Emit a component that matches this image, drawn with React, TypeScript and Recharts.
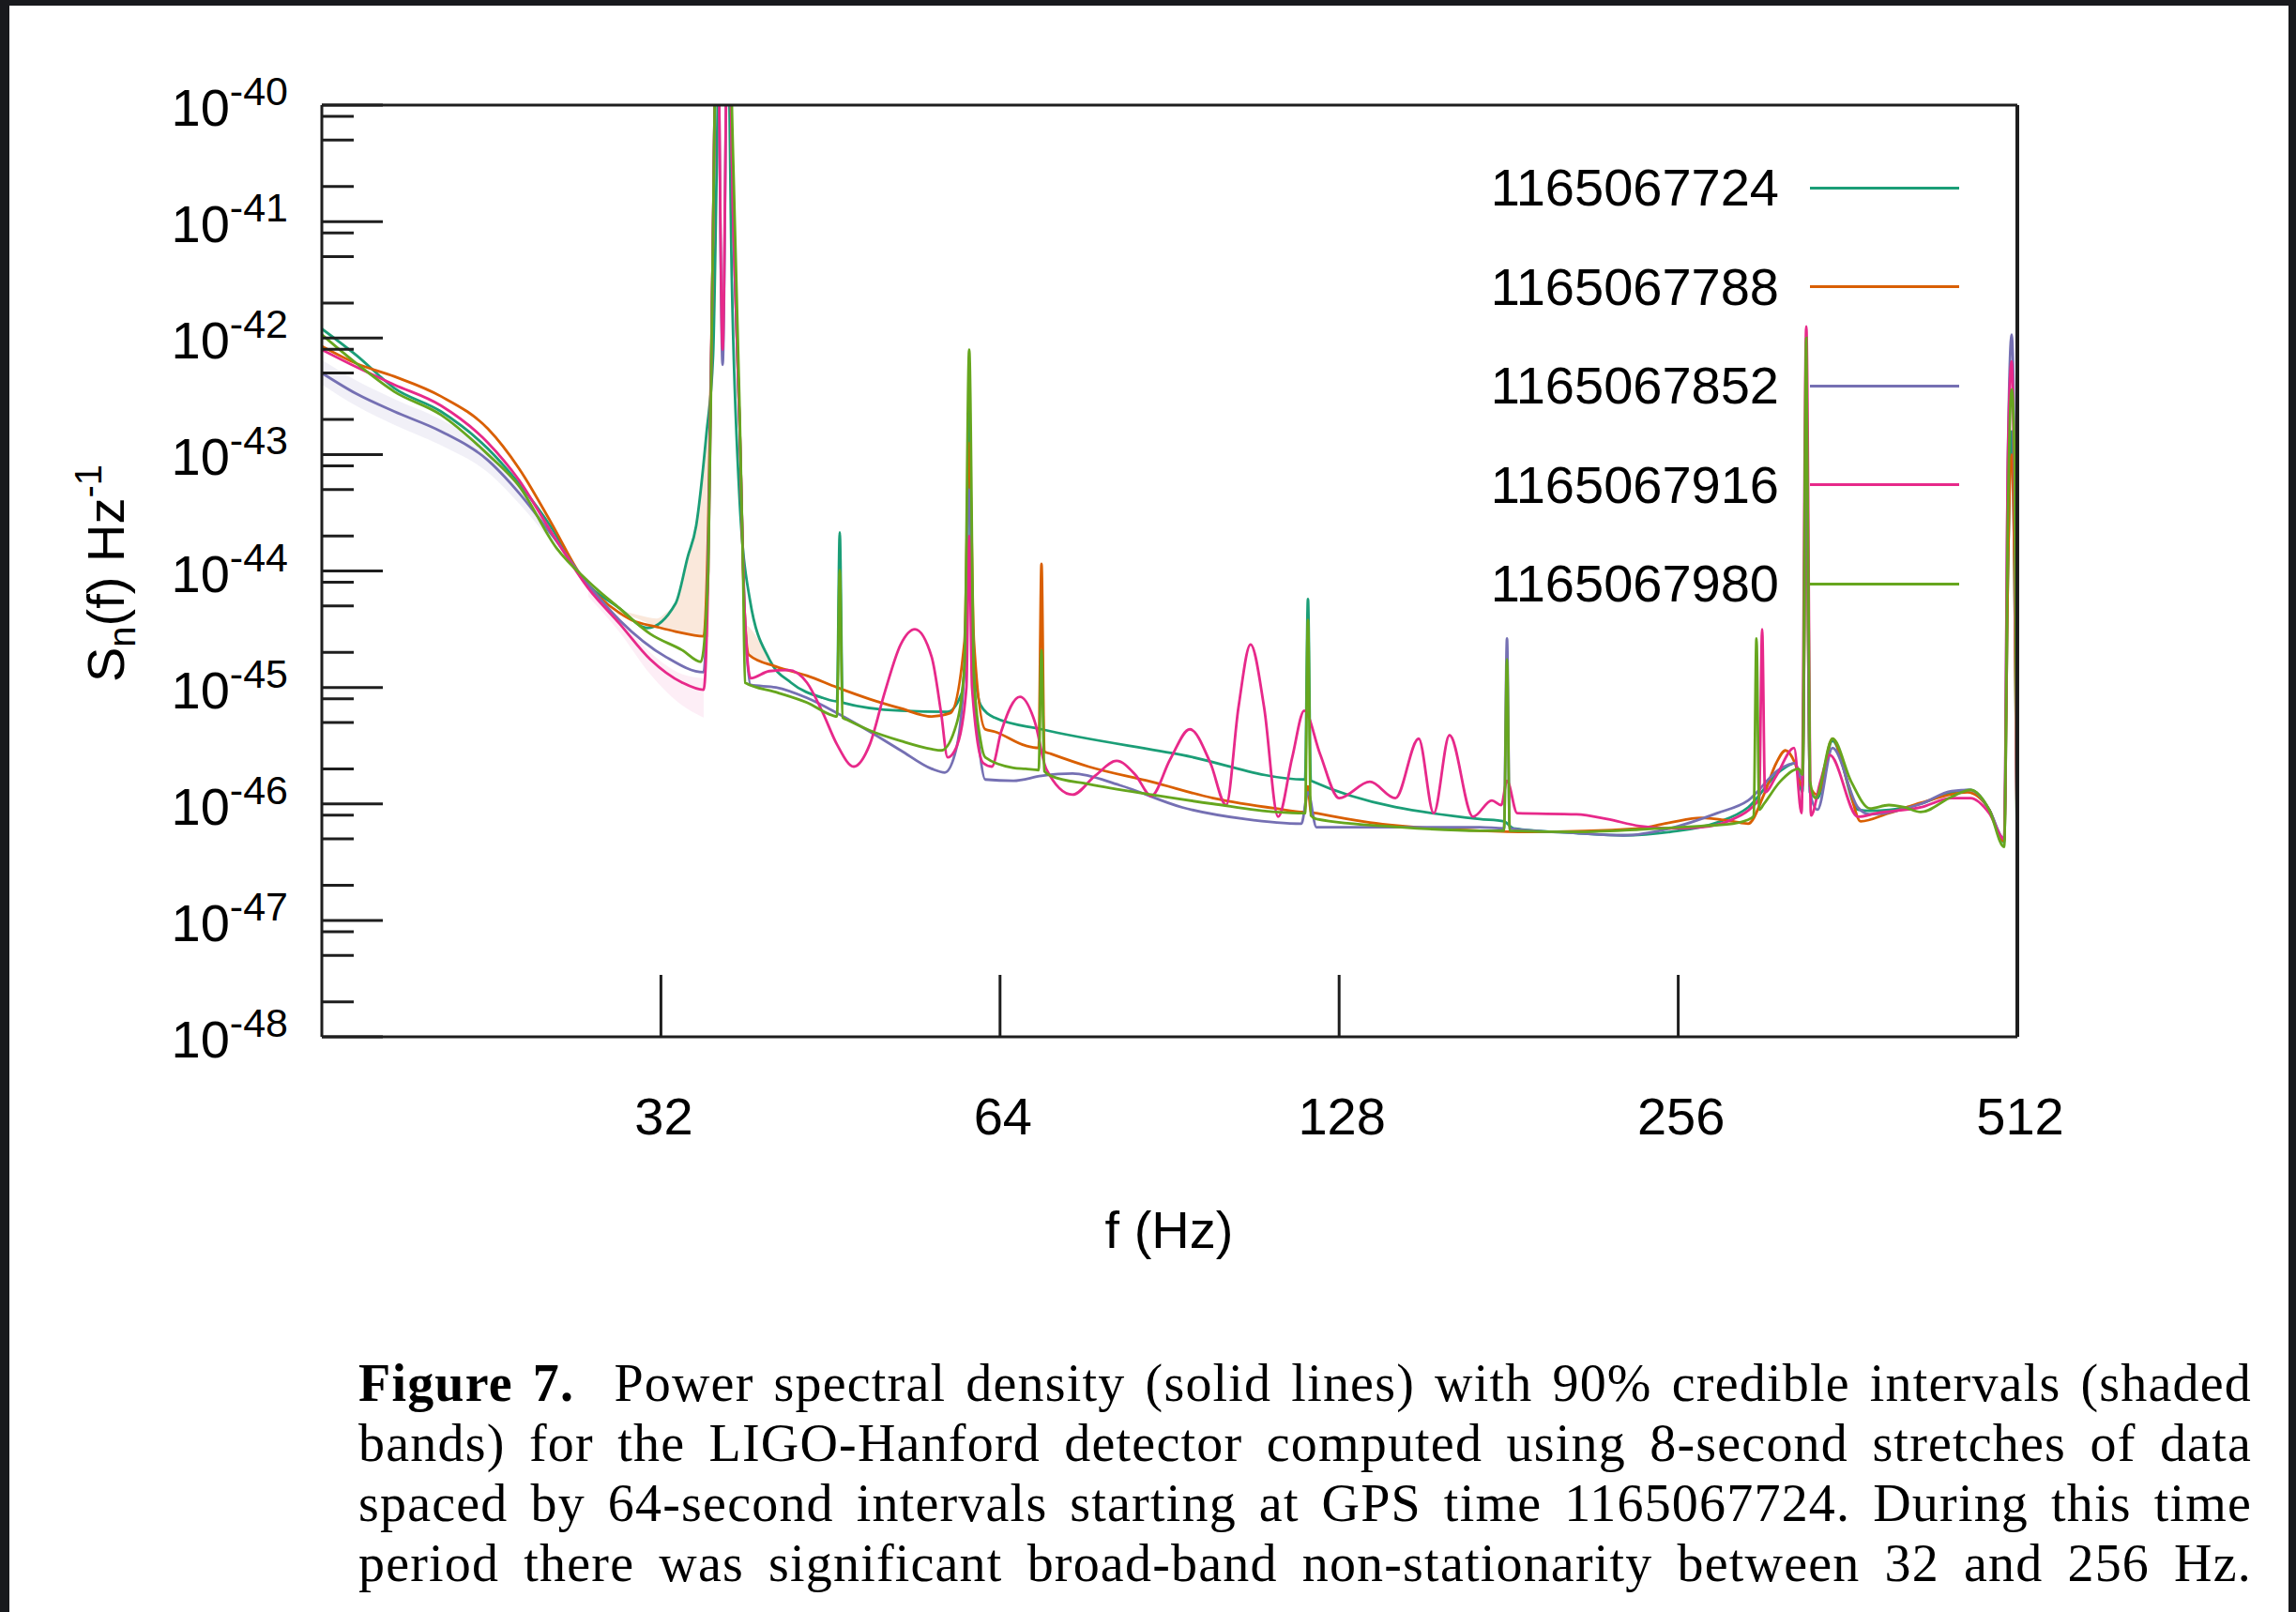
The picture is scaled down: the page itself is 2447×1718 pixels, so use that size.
import React from 'react';
import { ComposedChart, Line, Area, XAxis, YAxis } from 'recharts';

const SANS = '"Liberation Sans", Arial, Helvetica, sans-serif';
const SERIF = '"Liberation Serif", "Times New Roman", serif';
const INK = '#1e1e1e';

// axes
const freqTicks = [32, 64, 128, 256, 512];
const psdDecades = [1e-48, 1e-47, 1e-46, 1e-45, 1e-44, 1e-43, 1e-42, 1e-41, 1e-40];
const psdMinorTicks = [
  2e-48, 5e-48, 8e-48, 2e-47, 5e-47, 8e-47, 2e-46, 5e-46, 8e-46, 2e-45, 5e-45, 8e-45,
  2e-44, 5e-44, 8e-44, 2e-43, 5e-43, 8e-43, 2e-42, 5e-42, 8e-42, 2e-41, 5e-41, 8e-41,
];

const gpsTimes = ['1165067724', '1165067788', '1165067852', '1165067916', '1165067980'];
const colors = ['#1b9e77', '#d95f02', '#7570b3', '#e7298a', '#66a61e'];

// 1165067724
const freq724 = [16, 17.18, 18.55, 20.41, 22.47, 23.94, 25.55, 27.22, 29.39, 31.13, 32.97, 33.8, 34.39, 35.12, 35.6, 35.87, 36.08, 36.36, 36.64, 36.99, 37.56, 38.37, 39.94, 41.74, 44.56, 45.86, 46.12, 46.39, 52.24, 57.5, 59.18, 59.75, 60.09, 60.44, 61.49, 63.29, 69.66, 92.89, 119.4, 120.1, 120.8, 170.6, 179.3, 182.8, 207.9, 228.8, 251.8, 277.2, 295.3, 315.2, 325, 330, 332.6, 335.1, 340.3, 350.9, 369.6, 378.9, 420.2, 447.7, 465.2, 483.4, 498.4, 502.3, 506.1, 509, 512];
const psd724 = [1.2e-42, 7.08e-43, 3.72e-43, 2.34e-43, 1.12e-43, 5.62e-44, 2.4e-44, 8.71e-45, 4.79e-45, 3.24e-45, 5.25e-45, 1.32e-44, 2.45e-44, 1.51e-43, 7.08e-43, 3.16e-41, 1e-39, 1.58e-40, 1e-39, 3.16e-42, 4.57e-44, 5.75e-45, 1.74e-45, 1.1e-45, 8.13e-46, 7.59e-46, 2.14e-44, 7.41e-46, 6.31e-46, 6.17e-46, 8.91e-46, 3.16e-45, 2.51e-43, 3.16e-45, 7.08e-46, 5.5e-46, 4.37e-46, 2.63e-46, 1.62e-46, 5.75e-45, 1.58e-46, 7.41e-47, 7.08e-47, 6.17e-47, 5.62e-47, 5.37e-47, 5.75e-47, 6.92e-47, 9.33e-47, 1.91e-46, 2.24e-46, 1.26e-46, 1e-43, 1.26e-46, 1.12e-46, 3.47e-46, 8.91e-47, 8.71e-47, 1e-46, 1.26e-46, 1.32e-46, 8.91e-47, 4.68e-47, 1e-44, 1.58e-43, 1e-44, 2e-47];

// 1165067788
const freq788 = [16, 17.18, 18.55, 20.41, 22.47, 23.94, 25.55, 27.22, 29.39, 30.13, 31.73, 32.97, 34.92, 35.25, 35.55, 35.9, 36.3, 36.7, 37.1, 37.6, 37.95, 38.29, 40.48, 43.13, 45.86, 49.04, 52.24, 55.66, 57.83, 59.52, 60.09, 60.67, 62.09, 63.29, 67.43, 69.26, 69.66, 70.07, 71.01, 76.68, 87.19, 98.96, 112.5, 119.2, 120.1, 120.8, 122.2, 136.3, 170.6, 188.8, 236.4, 251.8, 268.3, 286.3, 295.3, 305, 312.8, 318.8, 325, 330, 332.6, 335.1, 340.3, 350.9, 362.5, 371.7, 393.7, 420.2, 462.4, 483.4, 498.4, 502.3, 506.1, 509, 512];
const psd788 = [8.51e-43, 6.03e-43, 4.68e-43, 3.16e-43, 1.66e-43, 7.59e-44, 2.63e-44, 8.91e-45, 4.37e-45, 3.8e-45, 3.31e-45, 3.02e-45, 2.75e-45, 2.51e-44, 3.16e-42, 1e-39, 1.58e-40, 1e-39, 1e-41, 1.58e-43, 5.01e-45, 1.91e-45, 1.51e-45, 1.26e-45, 1e-45, 7.94e-46, 6.61e-46, 5.62e-46, 6.03e-46, 2.51e-45, 1.26e-43, 2.51e-45, 4.37e-46, 4.17e-46, 3.16e-46, 3.02e-46, 1.15e-44, 2.82e-46, 2.69e-46, 2.09e-46, 1.55e-46, 1.12e-46, 9.12e-47, 8.51e-47, 1.41e-46, 8.51e-47, 8.32e-47, 6.92e-47, 5.89e-47, 5.75e-47, 6.17e-47, 6.92e-47, 7.59e-47, 7.08e-47, 6.76e-47, 1.2e-46, 2.24e-46, 2.88e-46, 2.24e-46, 1.41e-46, 6.31e-44, 1.41e-46, 1.2e-46, 3.63e-46, 1.45e-46, 7.08e-47, 8.32e-47, 1.02e-46, 1.26e-46, 8.91e-47, 4.79e-47, 1e-44, 1e-43, 1e-44, 2.51e-47];

// 1165067852
const freq852 = [16, 17.18, 18.55, 20.41, 22.47, 23.94, 25.55, 27.59, 29.39, 32.35, 34.92, 35.25, 35.55, 35.9, 36.3, 36.7, 37.1, 37.6, 37.95, 38.44, 40.48, 43.13, 45.86, 49.04, 52.24, 55.66, 57.17, 58.61, 59.52, 60.09, 60.67, 61.49, 62.09, 65.77, 69.66, 74.22, 81.69, 92.89, 105.6, 118.5, 120.1, 122.2, 145.2, 170.6, 179.3, 180.4, 181.4, 207.9, 228.8, 251.8, 277.2, 295.3, 315.2, 325, 330, 332.6, 335.1, 340.3, 350.9, 369.6, 378.9, 420.2, 447.7, 465.2, 483.4, 498.4, 502.3, 506.1, 509, 512];
const psd852 = [5.01e-43, 3.31e-43, 2.34e-43, 1.58e-43, 8.91e-44, 4.68e-44, 2.09e-44, 7.59e-45, 3.8e-45, 1.82e-45, 1.35e-45, 1.58e-44, 3.16e-42, 1e-39, 5.89e-43, 1e-39, 1e-41, 1.58e-43, 5.01e-45, 1.05e-45, 1e-45, 8.13e-46, 6.03e-46, 4.17e-46, 2.88e-46, 2e-46, 1.86e-46, 3.16e-46, 1.58e-45, 5.01e-44, 1.26e-45, 2.51e-46, 1.62e-46, 1.58e-46, 1.74e-46, 1.82e-46, 1.45e-46, 9.33e-47, 7.41e-47, 6.76e-47, 1.26e-46, 6.31e-47, 6.31e-47, 6.31e-47, 6.17e-47, 2.63e-45, 6.17e-47, 5.62e-47, 5.37e-47, 6.17e-47, 8.32e-47, 1.07e-46, 2e-46, 2.24e-46, 1.58e-46, 2.51e-43, 1.26e-46, 8.91e-47, 3.02e-46, 9.33e-47, 8.13e-47, 1e-46, 1.29e-46, 1.32e-46, 8.91e-47, 5.01e-47, 1e-43, 1.07e-42, 1e-43, 1.82e-47];

// 1165067916
const freq916 = [16, 17.18, 18.55, 20.41, 22.47, 23.94, 25.55, 27.59, 29.39, 31.31, 33.42, 34.92, 35.25, 35.55, 35.9, 36.3, 36.7, 37.1, 37.6, 37.95, 38.44, 39.94, 41.5, 43.13, 44.56, 45.86, 47.47, 49.04, 50.57, 52.24, 53.77, 55.66, 56.74, 57.5, 58.61, 59.75, 60.09, 60.44, 61.84, 62.93, 64.15, 66.66, 68.74, 70.33, 74.22, 77.71, 81.22, 84.39, 87.19, 90.6, 94.33, 98.39, 101.6, 104.2, 106.8, 109.8, 113, 116.3, 119.2, 123.1, 128, 136.3, 143.6, 150.6, 155.3, 160.4, 168.3, 174.9, 178.3, 180.4, 184.2, 207.9, 221.4, 236.4, 251.8, 268.3, 286.3, 297.5, 302.1, 303.9, 305.7, 312.8, 324.4, 329.4, 332.6, 335.8, 342.3, 348.9, 369.6, 384, 420.2, 447.7, 465.2, 483.4, 498.4, 502.3, 506.1, 509, 512];
const psd916 = [7.94e-43, 5.62e-43, 3.98e-43, 2.63e-43, 1.26e-43, 6.03e-44, 2.19e-44, 7.08e-45, 3.55e-45, 1.74e-45, 1.1e-45, 9.55e-46, 1e-44, 3.16e-42, 1e-39, 7.94e-43, 1e-39, 1e-41, 1.58e-43, 5.01e-45, 1.2e-45, 1.38e-45, 1.41e-45, 1.1e-45, 6.03e-46, 3.24e-46, 2.09e-46, 3.24e-46, 9.12e-46, 2.34e-45, 3.16e-45, 1.82e-45, 6.03e-46, 2.51e-46, 3.16e-46, 1e-45, 2e-44, 1e-45, 2.24e-46, 2.09e-46, 4.17e-46, 8.32e-46, 5.01e-46, 2e-46, 1.2e-46, 1.74e-46, 2.34e-46, 1.78e-46, 1.17e-46, 2.4e-46, 4.37e-46, 2.24e-46, 9.77e-47, 6.76e-46, 2.34e-45, 6.76e-46, 7.76e-47, 2.51e-46, 6.31e-46, 2.69e-46, 1.12e-46, 1.55e-46, 1.12e-46, 3.63e-46, 8.32e-47, 3.89e-46, 7.76e-47, 1.07e-46, 9.77e-47, 1.58e-46, 8.32e-47, 8.13e-47, 7.41e-47, 6.46e-47, 6.17e-47, 6.31e-47, 7.41e-47, 9.33e-47, 1.12e-46, 3.16e-45, 1.26e-46, 1.74e-46, 3.02e-46, 8.32e-47, 1.26e-42, 7.94e-47, 1.55e-46, 2.63e-46, 7.76e-47, 8.32e-47, 9.33e-47, 1.12e-46, 1.12e-46, 8.32e-47, 5.01e-47, 1e-43, 6.31e-43, 3.16e-44, 2.51e-47];

// 1165067980
const freq980 = [16, 17.18, 18.55, 20.41, 22.47, 23.94, 25.84, 27.59, 29.39, 31.31, 33.42, 34.72, 35.25, 35.55, 35.9, 36.3, 36.7, 37.1, 37.56, 37.85, 38, 40.48, 43.13, 45.42, 45.86, 46.12, 46.39, 46.84, 49.04, 52.24, 55.66, 56.74, 58.61, 59.52, 60.09, 60.67, 61.49, 62.09, 65.77, 67.43, 69.26, 69.66, 70.07, 71.01, 76.68, 87.19, 98.96, 112.5, 119.4, 120.1, 120.8, 122.2, 145.2, 170.6, 179.3, 180.4, 181.4, 207.9, 236.4, 268.3, 286.3, 297.5, 298.7, 300.4, 302.1, 305, 315.2, 327.5, 330, 332.6, 335.1, 339, 350.9, 364.6, 378.9, 393.7, 406.8, 420.2, 447.7, 465.2, 483.4, 498.4, 502.3, 506.1, 509, 512];
const psd980 = [1.07e-42, 6.03e-43, 3.47e-43, 2.19e-43, 1e-43, 5.37e-44, 1.58e-44, 8.13e-45, 4.79e-45, 2.88e-45, 2.09e-45, 1.66e-45, 1e-44, 3.16e-42, 1e-39, 1.58e-40, 1e-39, 3.16e-41, 3.16e-43, 1e-44, 1.1e-45, 9.12e-46, 7.41e-46, 5.75e-46, 5.62e-46, 1.02e-44, 5.5e-46, 5.25e-46, 4.27e-46, 3.47e-46, 2.95e-46, 2.88e-46, 5.01e-46, 1.58e-45, 7.94e-43, 1.26e-45, 3.55e-46, 2.51e-46, 2.04e-46, 2e-46, 1.95e-46, 2.09e-45, 1.91e-46, 1.74e-46, 1.48e-46, 1.2e-46, 1e-46, 8.51e-47, 8.32e-47, 3.8e-45, 7.94e-47, 7.41e-47, 6.31e-47, 5.89e-47, 5.89e-47, 1.74e-45, 5.89e-47, 5.75e-47, 6.03e-47, 6.46e-47, 6.76e-47, 7.59e-47, 7.94e-47, 2.63e-45, 8.91e-47, 1e-46, 1.55e-46, 2e-46, 1.78e-46, 1e-42, 1.58e-46, 1.12e-46, 3.63e-46, 1.55e-46, 9.12e-47, 9.77e-47, 9.33e-47, 8.51e-47, 1.15e-46, 1.32e-46, 8.91e-47, 4.27e-47, 3.16e-44, 3.63e-43, 1e-43, 3.16e-47];

// 90% bands, only where they are wide enough to show
const bandFreq788a = [29.39, 30.5, 31.73, 32.35, 32.97, 33.42, 33.8, 34.39, 34.92, 35.3];
const bandLo788a = [4.4e-45, 3.9e-45, 3.3e-45, 3.1e-45, 3.0e-45, 2.9e-45, 2.85e-45, 2.8e-45, 2.75e-45, 2.7e-45];
const bandHi788a = [4.6e-45, 4.2e-45, 3.9e-45, 4.4e-45, 5.2e-45, 7.5e-45, 1.3e-44, 2.4e-44, 8e-44, 4e-43];
const bandFreq788b = [37.95, 38.44, 39.2, 39.94, 40.48];
const bandLo788b = [1.9e-45, 1.85e-45, 1.7e-45, 1.6e-45, 1.5e-45];
const bandHi788b = [3.5e-45, 3.2e-45, 2.4e-45, 1.8e-45, 1.55e-45];
const bandFreq852 = [16, 17.18, 18.55, 20.41, 22.47, 23.94, 25.55];
const bandLo852 = [4.0e-43, 2.6e-43, 1.8e-43, 1.2e-43, 7.0e-44, 3.8e-44, 1.8e-44];
const bandHi852 = [6.5e-43, 4.3e-43, 3.0e-43, 2.0e-43, 1.1e-43, 5.6e-44, 2.4e-44];
const bandFreq916 = [27.59, 29.39, 31.31, 33.42, 34.92];
const bandLo916 = [6.0e-45, 3.0e-45, 1.3e-45, 7.0e-46, 5.5e-46];
const bandHi916 = [8.2e-45, 3.9e-45, 2.0e-45, 1.3e-45, 1.2e-45];

const toPoints = (freq: number[], psd: number[]) => freq.map((f, i) => ({ f, s: psd[i] }));
const toBand = (freq: number[], lo: number[], hi: number[]) =>
  freq.map((f, i) => ({ f, range: [lo[i], hi[i]] }));

const series = [
  { name: gpsTimes[0], color: colors[0], points: toPoints(freq724, psd724) },
  { name: gpsTimes[1], color: colors[1], points: toPoints(freq788, psd788) },
  { name: gpsTimes[2], color: colors[2], points: toPoints(freq852, psd852) },
  { name: gpsTimes[3], color: colors[3], points: toPoints(freq916, psd916) },
  { name: gpsTimes[4], color: colors[4], points: toPoints(freq980, psd980) },
];

const bands = [
  { key: 'b788a', color: colors[1], opacity: 0.14, points: toBand(bandFreq788a, bandLo788a, bandHi788a) },
  { key: 'b788b', color: colors[1], opacity: 0.14, points: toBand(bandFreq788b, bandLo788b, bandHi788b) },
  { key: 'b852', color: colors[2], opacity: 0.1, points: toBand(bandFreq852, bandLo852, bandHi852) },
  { key: 'b916', color: colors[3], opacity: 0.08, points: toBand(bandFreq916, bandLo916, bandHi916) },
];

const YTick = (props: any) => {
  const { y, payload } = props;
  const exp = Math.round(Math.log10(payload.value));
  return (
    <text x={307} y={y + 22} textAnchor="end" fontSize={56} fontFamily={SANS} fill="#000">
      10
      <tspan dy={-22} fontSize={43}>
        {exp}
      </tspan>
    </text>
  );
};

// labels sit below the plot even though the axis ticks point inwards
const XTick = (props: any) => {
  const { x, payload } = props;
  return (
    <text x={x + 3} y={1209} textAnchor="middle" fontSize={56} fontFamily={SANS} fill="#000">
      {payload.value}
    </text>
  );
};

const NoLabel = () => null;

const captionLines = [
  <>
    <b>Figure 7.</b>&nbsp; Power spectral density (solid lines) with 90% credible intervals (shaded
  </>,
  <>bands) for the LIGO-Hanford detector computed using 8-second stretches of data</>,
  <>spaced by 64-second intervals starting at GPS time 1165067724. During this time</>,
  <>period there was significant broad-band non-stationarity between 32 and 256 Hz.</>,
];

export default function App() {
  const axisCommon = { type: 'number' as const, scale: 'log' as const, allowDataOverflow: true };
  const tickStyle = { stroke: INK, strokeWidth: 3 };
  return (
    <div style={{ position: 'absolute', left: 0, top: 0, width: 2447, height: 1718, background: '#18191d', overflow: 'hidden' }}>
      <div style={{ position: 'absolute', left: 10, top: 6, width: 2429, height: 1712, background: '#fff' }} />
      <div style={{ position: 'absolute', left: 0, top: 0 }}>
        <ComposedChart width={2447} height={1380} margin={{ top: 112, right: 297, bottom: 275, left: 0 }}>
          <XAxis {...axisCommon} xAxisId="f" dataKey="f" domain={[16, 512]} ticks={freqTicks} interval={0}
            mirror height={1} tickSize={66} stroke={INK} tickLine={tickStyle} axisLine={tickStyle}
            tick={(p: any) => <XTick {...p} />} />
          <XAxis {...axisCommon} xAxisId="fTop" dataKey="f" orientation="top" domain={[16, 512]} mirror height={1}
            tick={false} tickLine={false} axisLine={tickStyle} />
          <YAxis {...axisCommon} yAxisId="s" domain={[1e-48, 1e-40]} ticks={psdDecades} interval={0}
            tickLine={false} axisLine={false} tick={(p: any) => <YTick {...p} />} width={343} />
          <YAxis {...axisCommon} yAxisId="sMajor" domain={[1e-48, 1e-40]} ticks={psdDecades} interval={0} mirror
            width={1} tick={NoLabel} tickSize={65} stroke={INK} tickLine={tickStyle} axisLine={tickStyle} />
          <YAxis {...axisCommon} yAxisId="sMinor" domain={[1e-48, 1e-40]} ticks={psdMinorTicks} interval={0} mirror
            width={1} tick={NoLabel} tickSize={33} stroke={INK} tickLine={tickStyle} axisLine={false} />
          <YAxis {...axisCommon} yAxisId="sRight" orientation="right" domain={[1e-48, 1e-40]} mirror width={1}
            tick={false} tickLine={false} axisLine={{ stroke: INK, strokeWidth: 4 }} />

          {bands.map((b) => (
            <Area key={b.key} data={b.points} dataKey="range" xAxisId="f" yAxisId="s" type="monotone"
              stroke="none" fill={b.color} fillOpacity={b.opacity} isAnimationActive={false} />
          ))}

          {series.map((s) => (
            <Line key={s.name} data={s.points} dataKey="s" name={s.name} xAxisId="f" yAxisId="s"
              type="monotone" stroke={s.color} strokeWidth={2.8} dot={false} activeDot={false}
              isAnimationActive={false} />
          ))}
        </ComposedChart>
      </div>

      {/* legend */}
      {series.map((s, i) => {
        const yc = 200 + i * 105.5;
        return (
          <React.Fragment key={s.name}>
            <div style={{ position: 'absolute', left: 1396, width: 500, top: yc - 28, height: 56, lineHeight: '56px',
              fontSize: 56, fontFamily: SANS, textAlign: 'right', color: '#000' }}>{s.name}</div>
            <div style={{ position: 'absolute', left: 1929, width: 159, top: yc - 1.5, height: 3, background: s.color }} />
          </React.Fragment>
        );
      })}

      {/* axis titles */}
      <div style={{ position: 'absolute', left: 1246, top: 1311, transform: 'translate(-50%, -50%)', fontSize: 56,
        fontFamily: SANS, whiteSpace: 'nowrap', lineHeight: '56px', color: '#000' }}>f (Hz)</div>
      <div style={{ position: 'absolute', left: 112, top: 611, transform: 'translate(-50%, -50%) rotate(-90deg)',
        fontSize: 56, fontFamily: SANS, whiteSpace: 'nowrap', lineHeight: '56px', color: '#000' }}>
        S<span style={{ fontSize: 40, verticalAlign: -12 }}>n</span>(f) Hz
        <span style={{ fontSize: 40, verticalAlign: 24 }}>-1</span>
      </div>

      {/* caption */}
      <div style={{ position: 'absolute', left: 382, top: 1442, width: 2018, fontFamily: SERIF, fontSize: 56,
        letterSpacing: 1.2, lineHeight: '64px', color: '#000' }}>
        {captionLines.map((line, i) => (
          <div key={i} style={{ textAlign: 'justify', textAlignLast: 'justify' }}>{line}</div>
        ))}
      </div>
    </div>
  );
}
